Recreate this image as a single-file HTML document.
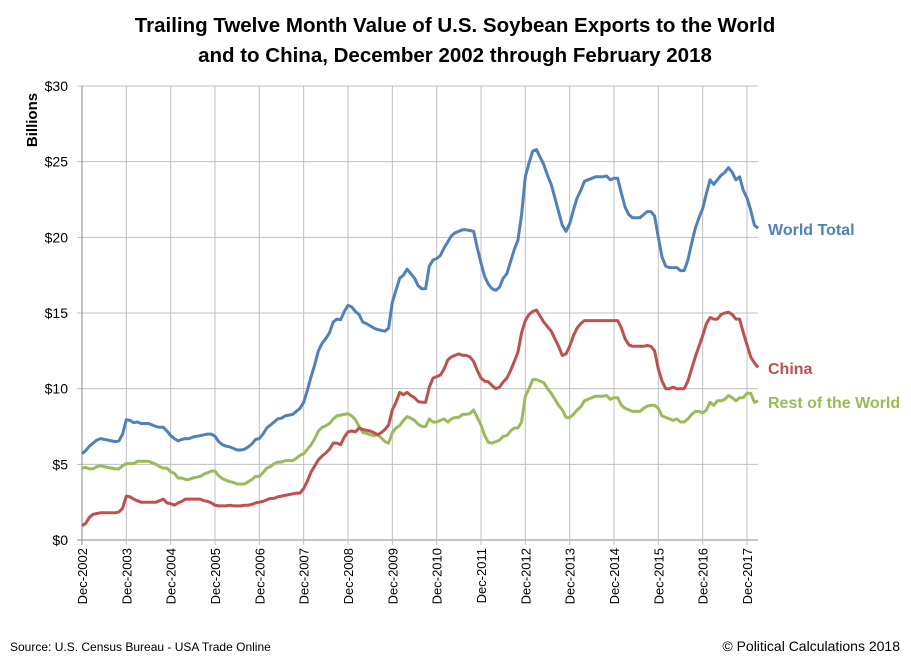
<!DOCTYPE html>
<html><head><meta charset="utf-8"><style>
body{margin:0;background:#fff;}
svg{display:block;font-family:"Liberation Sans",sans-serif;}
</style></head><body>
<svg id="chart" width="911" height="661">
<text x="455" y="32" text-anchor="middle" font-size="20.5" font-weight="bold" fill="#000">Trailing Twelve Month Value of U.S. Soybean Exports to the World</text>
<text x="455" y="62" text-anchor="middle" font-size="20.5" font-weight="bold" fill="#000">and to China, December 2002 through February 2018</text>
<text transform="translate(37,120) rotate(-90)" text-anchor="middle" font-size="15" font-weight="bold">Billions</text>
<g id="grid"></g>
<g id="axes"></g>
<g id="series"></g>
<text x="768" y="235" font-size="16" font-weight="bold" fill="#4F81BD">World Total</text>
<text x="768" y="374" font-size="16" font-weight="bold" fill="#C0504D">China</text>
<text x="768" y="408" font-size="16" font-weight="bold" fill="#9BBB59">Rest of the World</text>
<text x="10" y="651" font-size="12">Source: U.S. Census Bureau - USA Trade Online</text>
<text x="900" y="651" text-anchor="end" font-size="14">© Political Calculations 2018</text>
</svg>
<script>
const yTicks=[0,5,10,15,20,25,30];
const yTickLabels=["$0","$5","$10","$15","$20","$25","$30"];
const xTickLabels=["Dec-2002","Dec-2003","Dec-2004","Dec-2005","Dec-2006","Dec-2007","Dec-2008","Dec-2009","Dec-2010","Dec-2011","Dec-2012","Dec-2013","Dec-2014","Dec-2015","Dec-2016","Dec-2017"];
const worldTotal=[5.7,5.9,6.2,6.4,6.6,6.7,6.65,6.6,6.55,6.5,6.55,7.0,
7.95,7.9,7.75,7.8,7.7,7.7,7.7,7.6,7.5,7.45,7.45,7.2,
6.9,6.7,6.55,6.65,6.7,6.7,6.8,6.85,6.9,6.95,7.0,7.0,
6.85,6.5,6.3,6.2,6.15,6.05,5.95,5.95,6.0,6.15,6.35,6.65,
6.7,7.0,7.4,7.6,7.8,8.0,8.05,8.2,8.25,8.3,8.5,8.7,
9.1,9.9,10.8,11.6,12.5,13.0,13.3,13.7,14.4,14.6,14.55,15.1,
15.5,15.4,15.1,14.9,14.4,14.3,14.15,14.0,13.9,13.85,13.8,14.0,
15.7,16.5,17.3,17.5,17.9,17.6,17.3,16.8,16.6,16.6,18.1,18.5,
18.6,18.8,19.3,19.7,20.1,20.3,20.4,20.5,20.5,20.45,20.4,19.3,
18.3,17.4,16.9,16.6,16.5,16.7,17.3,17.6,18.4,19.2,19.8,21.5,
24.0,24.9,25.7,25.8,25.3,24.8,24.1,23.5,22.6,21.7,20.8,20.4,
20.9,21.8,22.6,23.1,23.7,23.8,23.9,24.0,24.0,24.0,24.05,23.8,
23.9,23.9,22.9,22.0,21.5,21.3,21.3,21.3,21.5,21.7,21.7,21.4,
20.0,18.7,18.1,18.0,18.0,18.0,17.8,17.8,18.5,19.6,20.6,21.3,
21.9,22.9,23.8,23.5,23.8,24.1,24.3,24.6,24.3,23.8,24.0,23.1,
22.6,21.8,20.8,20.6];
const china=[0.95,1.1,1.5,1.7,1.75,1.8,1.8,1.8,1.8,1.8,1.85,2.1,
2.9,2.85,2.7,2.6,2.5,2.5,2.5,2.5,2.5,2.6,2.7,2.45,
2.4,2.3,2.45,2.55,2.7,2.7,2.7,2.7,2.7,2.6,2.55,2.45,
2.3,2.25,2.25,2.25,2.3,2.25,2.25,2.25,2.3,2.3,2.35,2.45,
2.5,2.55,2.65,2.75,2.75,2.85,2.9,2.95,3.0,3.05,3.1,3.1,
3.4,3.9,4.5,4.9,5.3,5.55,5.75,6.0,6.4,6.4,6.3,6.8,
7.15,7.2,7.15,7.4,7.3,7.25,7.2,7.1,6.95,7.1,7.3,7.6,
8.6,9.1,9.75,9.6,9.75,9.55,9.4,9.15,9.1,9.1,10.1,10.7,
10.8,10.9,11.3,11.9,12.1,12.2,12.3,12.2,12.2,12.1,11.8,11.2,
10.7,10.5,10.45,10.2,10.0,10.1,10.45,10.7,11.2,11.8,12.4,13.7,
14.5,14.9,15.1,15.2,14.8,14.4,14.1,13.8,13.3,12.8,12.2,12.3,
12.8,13.5,14.0,14.3,14.5,14.5,14.5,14.5,14.5,14.5,14.5,14.5,
14.5,14.5,14.0,13.3,12.9,12.8,12.8,12.8,12.8,12.85,12.8,12.5,
11.3,10.5,10.0,10.0,10.1,10.0,10.0,10.0,10.5,11.3,12.1,12.8,
13.5,14.3,14.7,14.6,14.6,14.9,15.0,15.05,14.9,14.6,14.6,13.7,
12.9,12.1,11.7,11.4];
const restOfWorld=worldTotal.map((v,i)=>Math.round((v-china[i])*100)/100);

const NS="http://www.w3.org/2000/svg";
const X0=82,XR=758,Y0=540,Y1=86,MONTH=(747-82)/180;
const xs=m=>X0+m*MONTH;
const ys=v=>Y0-(v/30)*(Y0-Y1);
function mk(tag,attrs,parent){const e=document.createElementNS(NS,tag);for(const k in attrs)e.setAttribute(k,attrs[k]);parent.appendChild(e);return e;}
const grid=document.getElementById('grid'),axes=document.getElementById('axes'),ser=document.getElementById('series');
yTicks.forEach((t,i)=>{
  const l=mk('line',{x1:X0-5,x2:XR,y1:ys(t),y2:ys(t),stroke:i===0?'#888':'#c0c0c0','stroke-width':1},grid);
  
  
  const tx=mk('text',{x:68,y:ys(t)+5,'text-anchor':'end','font-size':14},axes);
  tx.textContent=yTickLabels[i];
  
  
});
xTickLabels.forEach((lab,i)=>{
  const x=xs(i*12);
  const l=mk('line',{x1:x,x2:x,y1:Y1,y2:Y0+5,stroke:i===0?'#888':'#c0c0c0','stroke-width':1},grid);
  
  
  const tx=mk('text',{transform:`translate(${x+5},${Y0+8}) rotate(-90)`,'text-anchor':'end','font-size':13},axes);
  tx.textContent=lab;
  
  
});
mk('line',{x1:X0,x2:X0,y1:Y1,y2:Y0,stroke:'#888'},axes);
function drawLine(data,color,name){
  const d=data.map((v,i)=>(i?'L':'M')+xs(i).toFixed(1)+','+ys(v).toFixed(1)).join('');
  const p=mk('path',{d:d,fill:'none',stroke:color,'stroke-width':3,'stroke-linejoin':'round'},ser);
  
  
}
drawLine(restOfWorld,'#9BBB59','line-rest-of-world');
drawLine(china,'#C0504D','line-china');
drawLine(worldTotal,'#4F81BD','line-world-total');
</script>
</body></html>
